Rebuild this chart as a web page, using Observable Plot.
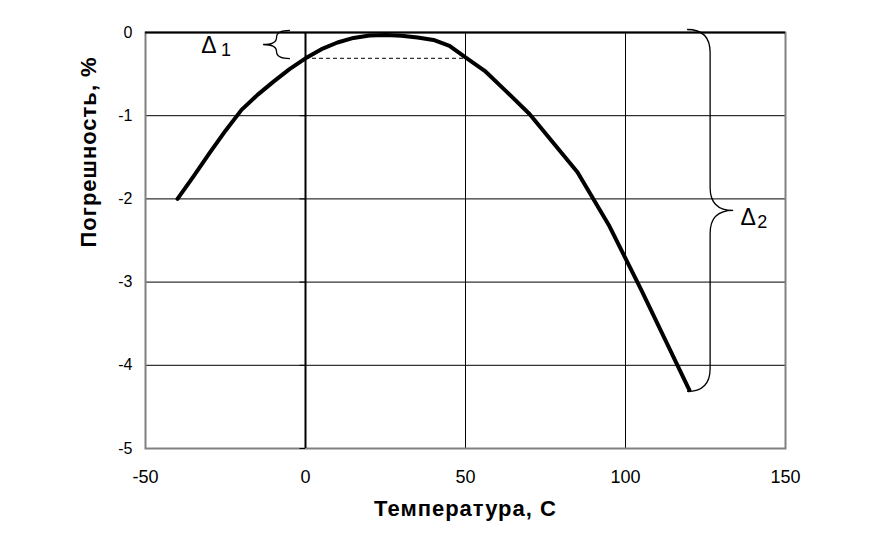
<!DOCTYPE html>
<html><head><meta charset="utf-8">
<script src="https://cdn.jsdelivr.net/npm/d3@7"></script>
<script src="https://cdn.jsdelivr.net/npm/@observablehq/plot@0.6"></script>
<style>body{margin:0;background:#fff}</style>
</head><body><div id="chart"></div>
<script>
const temps  = [-40, -35, -30, -25, -20, -15, -10, -5, 0, 5, 10, 15, 20, 25, 30, 35, 40, 45, 50, 56, 62, 70, 85, 95, 105, 120];
const errors = [-2.0, -1.73, -1.45, -1.18, -0.93, -0.75, -0.59, -0.44, -0.31, -0.2, -0.12, -0.065, -0.035, -0.03, -0.04, -0.06, -0.09, -0.16, -0.30, -0.46, -0.68, -0.98, -1.68, -2.33, -3.10, -4.30];
const xTicks = [-50, 0, 50, 100, 150];
const yTicks = [0, -1, -2, -3, -4, -5];
const xGrid = [50, 100];
const yGrid = [-1, -2, -3, -4];
const delta1Level = -0.31;   // error at 0 °C (dashed reference)
const deltaSymbolX = [-32.6, 135.9];
const deltaSymbolY = [-0.162, -2.22];
const deltaSubs = ["1", "2"];
const deltaSubX = [-26.4, 141.2];
const deltaSubY = [-0.216, -2.28];
const braceEdgeX = [-4.7, 119.4];
const braceTipX = [-13.1, 133.8];
const braceTop = [0.02, 0.03];
const braceBottom = [-0.32, -4.32];
const xTitle = "Температура, С";
const yTitle = "Погрешность, %";

const data = temps.map((t, i) => ({t, e: errors[i]}));
const symbols = deltaSymbolX.map((x, i) => ({x, y: deltaSymbolY[i]}));
const subs = deltaSubs.map((s, i) => ({s, x: deltaSubX[i], y: deltaSubY[i]}));

const chart = Plot.plot({
  width: 880, height: 535,
  marginLeft: 145, marginRight: 95, marginTop: 32, marginBottom: 87,
  style: {fontFamily: "'Liberation Sans', Arial, sans-serif", fontSize: "16px", background: "white", color: "black"},
  x: {domain: [-50, 150], label: null},
  y: {domain: [-5, 0], label: null},
  marks: [
    Plot.ruleX(xGrid, {stroke: "black", strokeWidth: 1}),
    Plot.ruleY(yGrid, {stroke: "black", strokeWidth: 1}),
    Plot.frame({stroke: "#808080", strokeWidth: 2}),
    Plot.ruleY([0], {stroke: "black", strokeWidth: 2}),
    Plot.ruleX([0], {stroke: "black", strokeWidth: 2}),
    Plot.ruleY(yTicks, {x1: -1.7, x2: 0, stroke: "black", strokeWidth: 1}),
    Plot.axisX(xTicks, {anchor: "bottom", tickSize: 0, tickPadding: 22, fontSize: 18, tickFormat: d => String(d)}),
    Plot.axisY(yTicks, {anchor: "left", tickSize: 0, tickPadding: 13, fontSize: 16, tickFormat: d => String(d)}),
    Plot.ruleY([delta1Level], {x1: 0, x2: 50, stroke: "black", strokeWidth: 1, strokeDasharray: "4,3"}),
    Plot.line(data, {x: "t", y: "e", stroke: "black", strokeWidth: 4, strokeLinejoin: "round"}),
    Plot.text(symbols, {x: "x", y: "y", text: () => "Δ", fontSize: 23, textAnchor: "start", fill: "black"}),
    Plot.text(subs, {x: "x", y: "y", text: "s", fontSize: 18, textAnchor: "start", fill: "black"}),
    Plot.text([xTitle], {frameAnchor: "bottom", dy: 67, fontWeight: "bold", fontSize: 22}),
    Plot.text([yTitle], {frameAnchor: "left", dx: -57, dy: 7, rotate: -90, fontWeight: "bold", fontSize: 22})
  ]
});

const sx = chart.scale("x"), sy = chart.scale("y");
function bracePath(xe, xt, yt, yb) {
  const xm = xe + (xt - xe) / 2;
  const ym = (yt + yb) / 2;
  const r = Math.min(Math.abs(xt - xe) / 2, (yb - yt) / 4);
  return `M${xe},${yt} Q${xm},${yt} ${xm},${yt + r} L${xm},${ym - r} Q${xm},${ym} ${xt},${ym} ` +
         `Q${xm},${ym} ${xm},${ym + r} L${xm},${yb - r} Q${xm},${yb} ${xe},${yb}`;
}
const svg = d3.select(chart);
braceEdgeX.forEach((xe, i) => {
  svg.append("path")
    .attr("d", bracePath(sx.apply(xe), sx.apply(braceTipX[i]), sy.apply(braceTop[i]), sy.apply(braceBottom[i])))
    .attr("fill", "none").attr("stroke", "black").attr("stroke-width", 1.3);
});
svg.selectAll("text").filter(function () { return this.textContent === xTitle || this.textContent === yTitle; })
  .attr("letter-spacing", "1px");
document.getElementById("chart").appendChild(chart);
</script>
</body></html>
